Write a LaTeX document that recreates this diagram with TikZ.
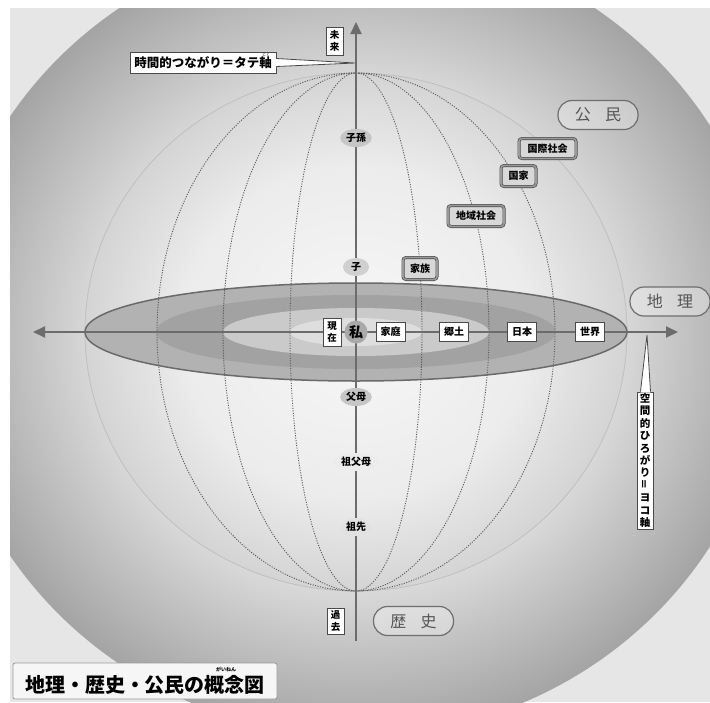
\documentclass[tikz,border=0pt]{standalone}
\usepackage{fontspec}
\usepackage{graphicx}
\newfontfamily\jp{Noto Sans CJK JP}
\usetikzlibrary{arrows.meta,shapes.geometric}
\definecolor{bgcorner}{HTML}{E6E6E6}
\definecolor{bgA}{HTML}{E4E4E4}
\definecolor{bgB}{HTML}{A4A4A4}
\definecolor{spA}{HTML}{F7F7F7}
\definecolor{spB}{HTML}{ECECEC}
\definecolor{spC}{HTML}{D4D4D4}
\definecolor{sprim}{HTML}{BDBDBD}
\definecolor{eqA}{HTML}{B2B2B2}
\definecolor{eqB}{HTML}{A2A2A2}
\definecolor{eqC}{HTML}{CACACA}
\definecolor{eqD}{HTML}{DEDEDE}
\definecolor{eqLine}{HTML}{6A6A6A}
\definecolor{axisc}{HTML}{6C6C6C}
\definecolor{bd}{HTML}{4A4A4A}
\definecolor{pillc}{HTML}{6E6E6E}
\definecolor{pilltext}{HTML}{555555}
\definecolor{meri}{HTML}{5A5A5A}
\definecolor{dfill}{HTML}{D8D8D8}
\definecolor{dmid}{HTML}{9A9A9A}
\definecolor{labA}{HTML}{C6C6C6}
\definecolor{labB}{HTML}{D0D0D0}
\definecolor{labC}{HTML}{A9A9A9}
\definecolor{labD}{HTML}{ECECEC}
\definecolor{labE}{HTML}{E2E2E2}
\definecolor{titlebd}{HTML}{9A9A9A}
\definecolor{titlefill}{HTML}{F6F6F6}
\pgfdeclareradialshading{bgshade}{\pgfpoint{0bp}{0bp}}{color(0bp)=(white); color(14bp)=(bgA); color(25bp)=(bgB); color(50bp)=(bgB)}
\pgfdeclareradialshading{sphshade}{\pgfpoint{0bp}{0bp}}{color(0bp)=(spA); color(16bp)=(spB); color(25bp)=(spC); color(50bp)=(spC)}
\begin{document}
\begin{tikzpicture}[x=1pt,y=-1pt,
  jpf/.style={font=\jp\bfseries\fontsize{10}{12}\selectfont},
  wbox/.style={draw=bd, fill=white, line width=0.8pt, inner sep=0pt, jpf},
  dbox/.style={draw=bd, double=dmid, double distance=1.6pt, line width=0.7pt, fill=dfill, rounded corners=3pt, inner sep=0pt, jpf},
  pill/.style={draw=pillc, line width=1.2pt, fill=white, fill opacity=0.3, text opacity=1, rounded corners=14pt, minimum width=80pt, minimum height=29pt, font=\jp\fontsize{16}{16}\selectfont, text=pilltext},
  axlab/.style={ellipse, inner sep=1.2pt, minimum width=29pt, minimum height=18pt, jpf},
  meridian/.style={draw=meri, line width=0.9pt, dash pattern=on 1.1pt off 1.4pt},
  axisline/.style={draw=axisc, line width=2pt}]
\useasboundingbox (0,0) rectangle (710,702);
\fill[white] (0,0) rectangle (710,702);
\begin{scope}
  \clip (10,8) rectangle (710,702);
  \fill[bgcorner] (10,8) rectangle (710,702);
  \shade[shading=bgshade] (357,336) ellipse [x radius=415pt, y radius=400pt];
\end{scope}
% sphere
\shade[shading=sphshade] (356,332) ellipse [x radius=271pt, y radius=259pt];
\draw[sprim, line width=0.7pt] (356,332) ellipse [x radius=271pt, y radius=259pt];
% equator
\filldraw[fill=eqA, draw=eqLine, line width=1.5pt] (356,332) ellipse [x radius=271pt, y radius=49pt];
\fill[eqB] (356,332) ellipse [x radius=200pt, y radius=37pt];
\fill[eqC] (356,332) ellipse [x radius=133pt, y radius=24pt];
\fill[eqD] (356,332) ellipse [x radius=66pt, y radius=14pt];
% meridians
\foreach \r in {66,133,199} \draw[meridian] (356,332) ellipse [x radius=\r pt, y radius=259pt];
% axes
\coordinate (hl) at (33,332); \coordinate (hr) at (678,332);
\draw[axisline, {Triangle[length=12pt,width=11pt]}-{Triangle[length=12pt,width=11pt]}] (hl) -- (hr);
\coordinate (vb) at (356,641); \coordinate (vt) at (356,22);
\draw[axisline, -{Triangle[length=12pt,width=11pt]}] (vb) -- (vt);
% vertical axis labels
\node[axlab, fill=labA] (shison) at (356,138) {子孫};
\node[axlab, fill=labB, minimum width=26pt] (ko) at (356,267) {子};
\node[circle, fill=labC, inner sep=1pt, minimum size=23pt, font=\jp\bfseries\fontsize{14}{14}\selectfont] (watashi) at (356,332) {私};
\node[axlab, fill=labA] (fubo) at (356,397) {父母};
\node[axlab, fill=labD, minimum width=36pt] (sofubo) at (356,462) {祖父母};
\node[axlab, fill=labE] (sosen) at (356,527) {祖先};
% horizontal boxes
\node[wbox, minimum width=29pt, minimum height=19pt] (katei) at (390.5,332) {家庭};
\node[wbox, minimum width=29pt, minimum height=19pt] (kyodo) at (454,332) {郷土};
\node[wbox, minimum width=29pt, minimum height=19pt] (nihon) at (522,332) {日本};
\node[wbox, minimum width=29pt, minimum height=19pt] (sekai) at (590,332) {世界};
\node[wbox, minimum width=18pt, minimum height=28pt, align=center, font=\jp\bfseries\fontsize{9.5}{11.5}\selectfont] (genzai) at (332,332) {現\\在};
\node[wbox, minimum width=17pt, minimum height=28pt, align=center, font=\jp\bfseries\fontsize{9.5}{11.5}\selectfont] (mirai) at (334.5,41) {未\\来};
\node[wbox, minimum width=17pt, minimum height=26pt, align=center, font=\jp\bfseries\fontsize{9.5}{11.5}\selectfont] (kako) at (335.5,621) {過\\去};
% civics boxes
\node[dbox, minimum width=34pt, minimum height=22pt] (kazoku) at (420,268.5) {家族};
\node[dbox, minimum width=56pt, minimum height=21pt] (chiiki) at (476,216) {地域社会};
\node[dbox, minimum width=35pt, minimum height=21pt] (kokka) at (518.5,176) {国家};
\node[dbox, minimum width=57pt, minimum height=20pt] (kokusai) at (547.5,148.5) {国際社会};
% pills
\node[pill] (koumin) at (598,115) {公\hspace{0.9em}民};
\node[pill] (chiri) at (670,301.5) {地\hspace{0.9em}理};
\node[pill] (rekishi) at (413.5,621) {歴\hspace{0.9em}史};
% time callout
\node[wbox, font=\jp\bfseries\fontsize{12.5}{13}\selectfont, minimum width=146pt, minimum height=21pt] (tate) at (203,62.5) {時間的つながり＝タテ軸};
\coordinate (ttip) at (355,63);
\fill[white] ([shift={(-1,-4)}]tate.east) -- (ttip) -- ([shift={(-1,4)}]tate.east) -- cycle;
\draw[bd, line width=0.8pt] ([shift={(0,-4)}]tate.east) -- (ttip) -- ([shift={(0,4)}]tate.east);
\node[font=\jp\fontsize{4}{4}\selectfont, inner sep=0pt] (jiku) at (266,55) {じく};
% space callout
\node[wbox, minimum width=16pt, minimum height=137pt, align=center, font=\jp\bfseries\fontsize{10.5}{12.4}\selectfont] (yoko) at (645,460.5) {空\\間\\的\\ひ\\ろ\\が\\り\\\rotatebox{90}{＝}\\ヨ\\コ\\軸};
\coordinate (ytip) at (647,335);
\fill[white] ([shift={(-4.5,1)}]yoko.north) -- (ytip) -- ([shift={(5.5,1)}]yoko.north) -- cycle;
\draw[bd, line width=0.8pt] ([shift={(-4.5,0)}]yoko.north) -- (ytip) -- ([shift={(5.5,0)}]yoko.north);
% title
\node[draw=titlebd, fill=titlefill, rounded corners=2pt, line width=0.8pt, minimum width=264pt, minimum height=36pt] (titlebox) at (145,681) {};
\node[font=\jp\bfseries\fontsize{20}{20}\selectfont, inner sep=0pt] (title) at (145,684.5) {地理・歴史・公民の概念図};
\node[font=\jp\bfseries\fontsize{5}{5}\selectfont, inner sep=0pt] (ruby) at (226,669.5) {がいねん};
\end{tikzpicture}
\end{document}
